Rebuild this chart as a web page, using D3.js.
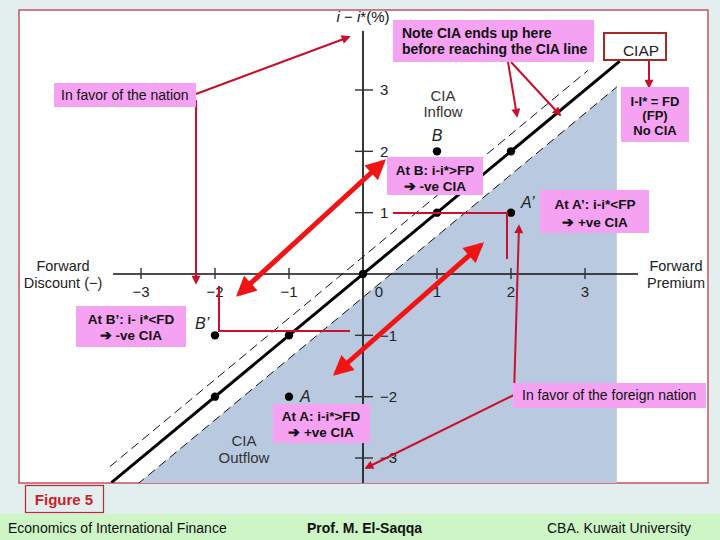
<!DOCTYPE html>
<html><head><meta charset="utf-8">
<script src="https://cdn.jsdelivr.net/npm/d3@7"></script>
<style>
html,body{margin:0;padding:0;background:#e3eeee;}
svg{display:block;font-family:"Liberation Sans",Arial,Helvetica,sans-serif;}
</style></head>
<body>
<svg id="c" width="720" height="540"></svg>
<script>
// ---------- data ----------
const xTicks = [-3, -2, -1, 1, 2, 3];
const yTicks = [-3, -2, -1, 1, 2, 3];
const ciapPoints = [[-2, -2], [-1, -1], [0, 0], [1, 1], [2, 2]];
const labeledPoints = [
  {name: "B", x: 1, y: 2},
  {name: "A\u2019", x: 2, y: 1},
  {name: "B\u2019", x: -2, y: -1},
  {name: "A", x: -1, y: -2}
];
const ciapLine = [[-3.4, -3.4], [3.47, 3.47]];
const upperDashed = [[-3.42, -3.14], [3.04, 3.32]];
const lowerDashed = [[-3.05, -3.43], [3.43, 3.05]];
const shadedRegion = [[-3.05, -3.43], [3.43, 3.05], [3.43, -3.43]];

// ---------- layout ----------
const svg = d3.select("#c");
const x = d3.scaleLinear().domain([-3, 3]).range([141, 585]);
const y = d3.scaleLinear().domain([-3, 3]).range([458, 90]);

const defs = svg.append("defs");
function marker(id, color, w, h, orient) {
  defs.append("marker").attr("id", id).attr("viewBox", "0 0 10 10")
    .attr("refX", 8).attr("refY", 5).attr("markerWidth", w).attr("markerHeight", h)
    .attr("markerUnits", "userSpaceOnUse").attr("orient", orient || "auto")
    .append("path").attr("d", "M0,0 L10,5 L0,10 Z").attr("fill", color);
}
marker("thin", "#c8102e", 10, 9);
marker("thick", "#f01414", 22, 20);
marker("thickStart", "#f01414", 22, 20, "auto-start-reverse");

// background & frame
svg.append("rect").attr("x", 0).attr("y", 0).attr("width", 720).attr("height", 540).attr("fill", "#e3eeee");
svg.append("rect").attr("x", 19).attr("y", 10).attr("width", 689).attr("height", 473)
  .attr("fill", "#ffffff").attr("stroke", "#c0283a").attr("stroke-width", 1.2);
svg.append("rect").attr("x", 0).attr("y", 514).attr("width", 720).attr("height", 26).attr("fill", "#cdf5c6");

// clip to frame
defs.append("clipPath").attr("id", "frame").append("rect").attr("x", 19).attr("y", 10).attr("width", 689).attr("height", 473);
const g = svg.append("g").attr("clip-path", "url(#frame)");

const line = d3.line().x(d => x(d[0])).y(d => y(d[1]));

// shaded region
g.append("path").attr("d", line(shadedRegion) + "Z").attr("fill", "#b9c9df");

// dashed lines
[upperDashed, lowerDashed].forEach(d => {
  g.append("path").attr("d", line(d)).attr("stroke", "#111").attr("stroke-width", 1)
    .attr("stroke-dasharray", "9,5").attr("fill", "none");
});

// x axis
g.append("line").attr("x1", 113).attr("x2", 638).attr("y1", y(0)).attr("y2", y(0))
  .attr("stroke", "#111").attr("stroke-width", 1.4);
g.selectAll(".xt").data(xTicks).enter().append("line")
  .attr("x1", d => x(d)).attr("x2", d => x(d)).attr("y1", y(0) - 6).attr("y2", y(0) + 5)
  .attr("stroke", "#333").attr("stroke-width", 1.4);
svg.selectAll(".xl").data(xTicks).enter().append("text")
  .attr("x", d => x(d)).attr("y", y(0) + 23).attr("text-anchor", "middle")
  .attr("font-size", 15).attr("fill", "#222")
  .text(d => d < 0 ? "\u2212" + Math.abs(d) : d);
svg.append("text").attr("x", x(0) + 16).attr("y", y(0) + 23).attr("text-anchor", "middle")
  .attr("font-size", 15).attr("fill", "#222").text("0");

// y axis
g.append("line").attr("x1", x(0)).attr("x2", x(0)).attr("y1", 31).attr("y2", 483)
  .attr("stroke", "#222").attr("stroke-width", 1.8);
g.selectAll(".yt").data(yTicks).enter().append("line")
  .attr("x1", x(0) - 8).attr("x2", x(0) + 10).attr("y1", d => y(d)).attr("y2", d => y(d))
  .attr("stroke", "#333").attr("stroke-width", 1.4);
svg.selectAll(".yl").data(yTicks).enter().append("text")
  .attr("x", x(0) + 17).attr("y", d => y(d)).attr("dy", "0.36em")
  .attr("font-size", 15).attr("fill", "#222")
  .text(d => d < 0 ? "\u2212" + Math.abs(d) : d);

// y axis title
const yt = svg.append("text").attr("x", x(0)).attr("y", 22).attr("text-anchor", "middle")
  .attr("font-size", 15).attr("fill", "#111");
yt.append("tspan").attr("font-style", "italic").text("i");
yt.append("tspan").text(" \u2212 ");
yt.append("tspan").attr("font-style", "italic").text("i");
yt.append("tspan").text("*(%)");

// CIAP line
g.append("path").attr("d", line(ciapLine)).attr("stroke", "#000").attr("stroke-width", 3).attr("fill", "none");

// points
g.selectAll(".cp").data(ciapPoints).enter().append("circle")
  .attr("cx", d => x(d[0])).attr("cy", d => y(d[1])).attr("r", 4.2).attr("fill", "#000");
g.selectAll(".lp").data(labeledPoints).enter().append("circle")
  .attr("cx", d => x(d.x)).attr("cy", d => y(d.y)).attr("r", 4.2).attr("fill", "#000");
const ptLabelOffset = {"B": [0, -10, "middle"], "A\u2019": [10, -5, "start"], "B\u2019": [-20, -6, "start"], "A": [11, 5, "start"]};
svg.selectAll(".pl").data(labeledPoints).enter().append("text")
  .attr("x", d => x(d.x) + ptLabelOffset[d.name][0]).attr("y", d => y(d.y) + ptLabelOffset[d.name][1])
  .attr("text-anchor", d => ptLabelOffset[d.name][2])
  .attr("font-size", 16).attr("font-style", "italic").attr("fill", "#222").text(d => d.name);

// region labels
function multi(xc, ys, lines, opts) {
  const t = svg.append("text").attr("text-anchor", opts.anchor || "middle")
    .attr("font-size", opts.size || 14).attr("font-weight", opts.weight || "normal")
    .attr("fill", opts.fill || "#222");
  lines.forEach((l, i) => t.append("tspan").attr("x", xc).attr("y", ys[i]).text(l));
}
multi(443, [101, 117], ["CIA", "Inflow"], {size: 15, fill: "#333"});
multi(244, [446, 463], ["CIA", "Outflow"], {size: 15, fill: "#333"});
multi(63, [271, 288], ["Forward", "Discount (\u2212)"], {size: 14.5, fill: "#222"});
multi(676, [271, 288], ["Forward", "Premium"], {size: 14.5, fill: "#222"});

// ---------- annotations ----------
const pink = "#f5a2f3";
function box(x0, y0, x1, y1) {
  svg.append("rect").attr("x", x0).attr("y", y0).attr("width", x1 - x0).attr("height", y1 - y0).attr("fill", pink);
}
function thin(pts, head) {
  svg.append("path").attr("d", d3.line()(pts)).attr("fill", "none")
    .attr("stroke", "#c8102e").attr("stroke-width", 2)
    .attr("marker-end", head ? "url(#thin)" : null);
}
function thick(p0, p1) {
  svg.append("path").attr("d", d3.line()([p0, p1])).attr("fill", "none")
    .attr("stroke", "#f01414").attr("stroke-width", 5)
    .attr("marker-end", "url(#thick)").attr("marker-start", "url(#thickStart)");
}

// thin connectors
thin([[196, 94], [349, 37]], true);
thin([[196, 100], [196, 283]], true);
thin([[508, 62], [517, 116]], true);
thin([[511, 62], [560, 115]], true);
thin([[649, 60], [649, 87]], true);
thin([[219, 286], [219, 331], [350, 331]], false);
thin([[393, 213], [507, 213], [507, 259]], false);
thin([[514, 395], [519, 226]], true);
thin([[514, 395], [366, 468]], true);

// thick double arrows
thick([239, 294], [383, 162]);
thick([336, 373], [481, 245]);

// boxes
box(393, 20, 594, 62);
multi(402, [38, 54], ["Note CIA ends up here", "before reaching the CIA line"], {anchor: "start", size: 14, weight: "bold", fill: "#111"});

svg.append("rect").attr("x", 604).attr("y", 33).attr("width", 62).attr("height", 27)
  .attr("fill", "#fff").attr("stroke", "#a52a2a").attr("stroke-width", 2);
svg.append("text").attr("x", 641).attr("y", 56).attr("text-anchor", "middle").attr("font-size", 15.5).attr("fill", "#222").text("CIAP");

box(621, 87, 689, 142);
multi(655, [106, 120, 135], ["I-I* = FD", "(FP)", "No CIA"], {size: 13, weight: "bold", fill: "#111"});

box(54, 83, 196, 107);
multi(61, [100], ["In favor of the nation"], {anchor: "start", size: 14, fill: "#111"});

box(387, 157, 483, 195);
multi(435, [175, 191], ["At B: i-i*>FP", "\u2794 -ve CIA"], {size: 13.5, weight: "bold", fill: "#111"});

box(540, 190, 649, 233);
multi(595, [209, 227], ["At A\u2019: i-i*<FP", "\u2794 +ve CIA"], {size: 13.5, weight: "bold", fill: "#111"});

box(76, 306, 186, 347);
multi(131, [324, 340], ["At B\u2019: i- i*<FD", "\u2794 -ve CIA"], {size: 13.5, weight: "bold", fill: "#111"});

box(273, 404, 370, 443);
multi(321, [421, 437], ["At A: i-i*>FD", "\u2794 +ve CIA"], {size: 13.5, weight: "bold", fill: "#111"});

box(513, 383, 706, 408);
multi(522, [400], ["In favor of the foreign nation"], {anchor: "start", size: 14, fill: "#111"});

// figure label
svg.append("rect").attr("x", 25.5).attr("y", 485.5).attr("width", 78).attr("height", 27)
  .attr("fill", "none").attr("stroke", "#c0283a").attr("stroke-width", 1.2);
svg.append("text").attr("x", 64).attr("y", 505).attr("text-anchor", "middle")
  .attr("font-size", 15).attr("font-weight", "bold").attr("fill", "#d01c2a").text("Figure 5");

// footer
svg.append("text").attr("x", 8).attr("y", 533).attr("font-size", 14).attr("fill", "#111").text("Economics of International Finance");
svg.append("text").attr("x", 307).attr("y", 533).attr("font-size", 14).attr("font-weight", "bold").attr("fill", "#111").text("Prof. M. El-Saqqa");
svg.append("text").attr("x", 547).attr("y", 533).attr("font-size", 14).attr("fill", "#111").text("CBA. Kuwait University");
</script>
</body></html>
